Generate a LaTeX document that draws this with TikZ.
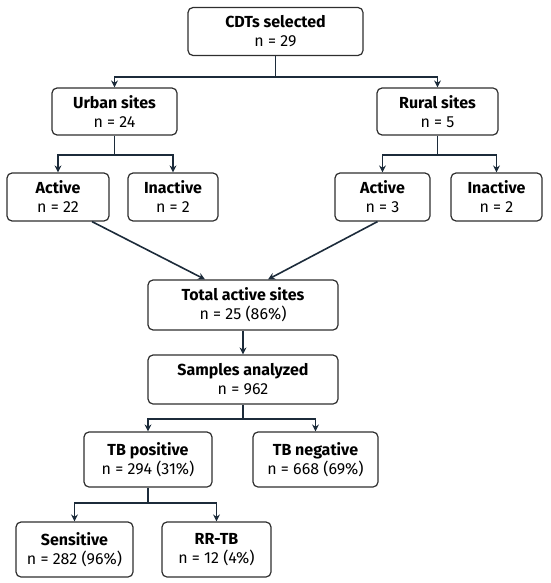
\documentclass[tikz,border=0pt]{standalone}
\usepackage{fontspec}
\setmainfont{Fira Sans}
\usetikzlibrary{arrows.meta}
\definecolor{linecol}{HTML}{1C2B3A}
\definecolor{boxcol}{HTML}{2E2E2E}
\begin{document}
\begin{tikzpicture}[x=1pt,y=1pt,
  sitebox/.style={draw=boxcol,line width=1.2pt,rounded corners=5pt,align=center,inner sep=0pt,font=\fontsize{16}{19}\selectfont},
  flow/.style={draw=linecol,line width=1.6pt},
  arr/.style={flow,-{Stealth[length=7pt,width=7pt]}}]
\useasboundingbox (0,0) rectangle (550,-583);
\node [sitebox,minimum width=175,minimum height=48] (cdt) at (275.5,-31.5) {\textbf{CDTs selected}\\n = 29};
\node [sitebox,minimum width=125,minimum height=47] (urban) at (114.5,-111.5) {\textbf{Urban sites}\\n = 24};
\node [sitebox,minimum width=121,minimum height=47] (rural) at (437.5,-111.5) {\textbf{Rural sites}\\n = 5};
\node [sitebox,minimum width=102,minimum height=48] (uact) at (58,-197) {\textbf{Active}\\n = 22};
\node [sitebox,minimum width=90,minimum height=48] (uinact) at (173,-197) {\textbf{Inactive}\\n = 2};
\node [sitebox,minimum width=95,minimum height=48] (ract) at (382.5,-197) {\textbf{Active}\\n = 3};
\node [sitebox,minimum width=91,minimum height=48] (rinact) at (496.5,-197) {\textbf{Inactive}\\n = 2};
\node [sitebox,minimum width=190,minimum height=50] (total) at (243,-305) {\textbf{Total active sites}\\n = 25 (86\%)};
\node [sitebox,minimum width=190,minimum height=49] (samples) at (243,-379.5) {\textbf{Samples analyzed}\\n = 962};
\node [sitebox,minimum width=128,minimum height=55] (tbpos) at (148,-459.5) {\textbf{TB positive}\\n = 294 (31\%)};
\node [sitebox,minimum width=125,minimum height=55] (tbneg) at (315.5,-459.5) {\textbf{TB negative}\\n = 668 (69\%)};
\node [sitebox,minimum width=117,minimum height=55] (sens) at (74.5,-549.5) {\textbf{Sensitive}\\n = 282 (96\%)};
\node [sitebox,minimum width=109,minimum height=55] (rrtb) at (216.5,-549.5) {\textbf{RR-TB}\\n = 12 (4\%)};
\coordinate (jcdt) at (275.5,-77);
\coordinate (jurban) at (114.5,-155);
\coordinate (jrural) at (437.5,-155);
\coordinate (jsamples) at (243,-419);
\coordinate (jtbpos) at (148,-503);
\draw [flow] (cdt) -- (jcdt);
\draw [arr] (jcdt) -| (urban);
\draw [arr] (jcdt) -| (rural);
\draw [flow] (urban) -- (jurban);
\draw [arr] (jurban) -| (uact);
\draw [arr] (jurban) -| (uinact);
\draw [flow] (rural) -- (jrural);
\draw [arr] (jrural) -| (ract);
\draw [arr] (jrural) -| (rinact);
\draw [arr] ([xshift=34]uact.south) -- ([xshift=-38]total.north);
\draw [arr] ([xshift=-5]ract.south) -- ([xshift=25]total.north);
\draw [arr] (total) -- (samples);
\draw [flow] (samples) -- (jsamples);
\draw [arr] (jsamples) -| (tbpos);
\draw [arr] (jsamples) -| (tbneg);
\draw [flow] (tbpos) -- (jtbpos);
\draw [arr] (jtbpos) -| (sens);
\draw [arr] (jtbpos) -| (rrtb);
\end{tikzpicture}
\end{document}
